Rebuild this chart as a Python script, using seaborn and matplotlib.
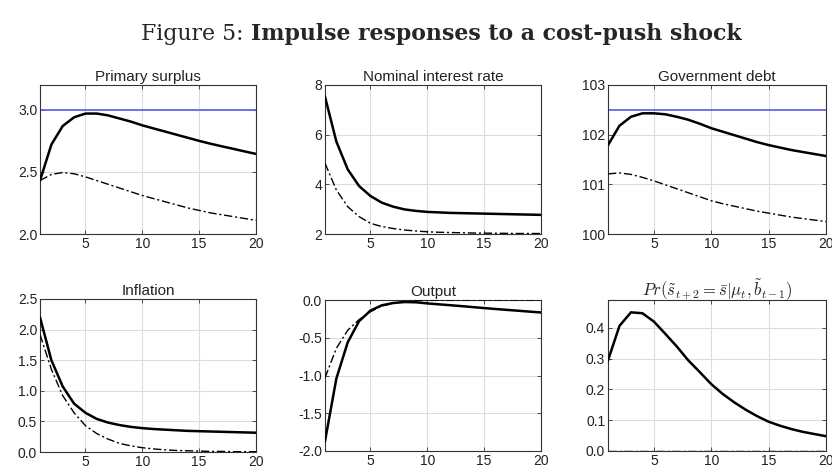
import numpy as np
import pandas as pd
import matplotlib
matplotlib.use("Agg")
import matplotlib.pyplot as plt
import seaborn as sns

sns.set_theme(style="whitegrid")
plt.rcParams['font.family'] = ['Liberation Sans', 'DejaVu Sans']
plt.rcParams['mathtext.fontset'] = 'cm'

periods = list(range(1, 21))

surplus_solid = [2.43, 2.72, 2.87, 2.94, 2.97, 2.97, 2.955, 2.93, 2.905, 2.875,
                 2.85, 2.825, 2.80, 2.775, 2.75, 2.727, 2.706, 2.686, 2.665, 2.645]
surplus_dash = [2.43, 2.48, 2.495, 2.485, 2.46, 2.43, 2.40, 2.37, 2.34, 2.31,
                2.285, 2.26, 2.235, 2.21, 2.19, 2.17, 2.155, 2.14, 2.125, 2.11]
surplus_bar = 3.0

rate_solid = [7.53, 5.72, 4.6, 3.93, 3.53, 3.26, 3.10, 2.99, 2.93, 2.89,
              2.87, 2.85, 2.84, 2.83, 2.82, 2.81, 2.80, 2.79, 2.78, 2.77]
rate_dash = [4.85, 3.77, 3.10, 2.70, 2.43, 2.30, 2.22, 2.16, 2.12, 2.09,
             2.07, 2.06, 2.05, 2.04, 2.035, 2.03, 2.025, 2.02, 2.02, 2.02]

debt_solid = [101.79, 102.18, 102.36, 102.43, 102.43, 102.41, 102.36, 102.30, 102.22, 102.13,
              102.06, 101.99, 101.92, 101.85, 101.79, 101.74, 101.69, 101.65, 101.61, 101.57]
debt_dash = [101.21, 101.23, 101.20, 101.14, 101.07, 100.99, 100.91, 100.83, 100.75, 100.67,
             100.61, 100.56, 100.51, 100.46, 100.42, 100.38, 100.34, 100.31, 100.28, 100.25]
debt_bar = 102.5

infl_solid = [2.20, 1.50, 1.07, 0.79, 0.64, 0.54, 0.48, 0.44, 0.41, 0.39,
              0.375, 0.365, 0.355, 0.345, 0.34, 0.335, 0.33, 0.325, 0.32, 0.315]
infl_dash = [1.92, 1.35, 0.92, 0.64, 0.43, 0.30, 0.21, 0.14, 0.10, 0.07,
             0.05, 0.035, 0.025, 0.02, 0.015, 0.01, 0.01, 0.005, 0.005, 0.005]

out_solid = [-1.87, -1.04, -0.56, -0.28, -0.14, -0.07, -0.04, -0.027, -0.03, -0.045,
             -0.057, -0.069, -0.081, -0.094, -0.107, -0.119, -0.131, -0.142, -0.154, -0.165]
out_dash = [-1.03, -0.64, -0.40, -0.26, -0.155, -0.08, -0.045, -0.02, -0.01, -0.004,
            -0.002, -0.001, 0.0, 0.0, 0.0, 0.0, 0.0, 0.0, 0.0, 0.0]

prob_solid = [0.294, 0.406, 0.45, 0.447, 0.42, 0.38, 0.339, 0.294, 0.256, 0.217,
              0.185, 0.158, 0.134, 0.113, 0.095, 0.082, 0.071, 0.062, 0.055, 0.048]
prob_dash = [0.0] * 20

titles = ["Primary surplus", "Nominal interest rate", "Government debt",
          "Inflation", "Output", r"$Pr(\tilde{s}_{t+2}=\bar{s}|\mu_t,\tilde{b}_{t-1})$"]
solids = [surplus_solid, rate_solid, debt_solid, infl_solid, out_solid, prob_solid]
dashes = [surplus_dash, rate_dash, debt_dash, infl_dash, out_dash, prob_dash]
bars = [surplus_bar, None, debt_bar, None, None, None]
ylims = [(2.0, 3.2), (2, 8), (100, 103), (0, 2.5), (-2, 0), (0, 0.49)]
yticks = [[2.0, 2.5, 3.0], [2, 4, 6, 8], [100, 101, 102, 103],
          [0, 0.5, 1.0, 1.5, 2.0, 2.5], [-2, -1.5, -1, -0.5, 0], [0, 0.1, 0.2, 0.3, 0.4]]
yfmt = ["{:.1f}", "{:.0f}", "{:.0f}", "{:.1f}", "{:.1f}", "{:.1f}"]

W, H = 832, 471
fig = plt.figure(figsize=(W / 100, H / 100), dpi=100)

# axes boxes in pixels: (left, top, right, bottom)
boxes = [(40, 85, 256, 234), (325, 85, 541, 234), (608, 85, 826, 234),
         (40, 299, 256, 452), (325, 300, 541, 451), (608, 300, 826, 451)]

for i in range(6):
    l, t, r, b = boxes[i]
    ax = fig.add_axes([l / W, 1 - b / H, (r - l) / W, (b - t) / H])
    df = pd.DataFrame({"t": periods, "solid": solids[i], "dash": dashes[i]})
    if bars[i] is not None:
        ax.axhline(bars[i], color="#5a5ae6", lw=1.2, zorder=2)
    sns.lineplot(data=df, x="t", y="dash", ax=ax, color="black", lw=1.0,
                 linestyle=(0, (6, 2, 1.5, 2)), zorder=3)
    sns.lineplot(data=df, x="t", y="solid", ax=ax, color="black", lw=1.8, zorder=4)
    ax.set_xlim(1, 20)
    ax.set_ylim(*ylims[i])
    ax.set_xticks([5, 10, 15, 20])
    ax.set_yticks(yticks[i])
    ax.set_yticklabels([yfmt[i].format(v) for v in yticks[i]])
    ax.set_xlabel("")
    ax.set_ylabel("")
    ax.set_title(titles[i], fontsize=11 if i < 5 else 12, pad=3, color="#222222")
    ax.set_facecolor("white")
    ax.grid(True, color="#dddddd", lw=0.8)
    for s in ax.spines.values():
        s.set_color("#333333")
        s.set_linewidth(0.8)
    ax.tick_params(axis="both", direction="in", length=3, width=0.6, labelsize=10,
                   colors="#333333", labelcolor="#222222", pad=2,
                   top=True, right=True, left=True, bottom=True)

# Figure title with normal + bold parts
fig.canvas.draw()
renderer = fig.canvas.get_renderer()
p1 = fig.text(0, 0, "Figure 5: ", fontsize=15.8, family="DejaVu Serif")
p2 = fig.text(0, 0, "Impulse responses to a cost-push shock", fontsize=15.8,
              family="DejaVu Serif", fontweight="bold")
w1 = p1.get_window_extent(renderer).width
w2 = p2.get_window_extent(renderer).width
x0 = 441.5 - (w1 + w2) / 2
yb = 1 - 40 / H
p1.set_position((x0 / W, yb))
p2.set_position(((x0 + w1) / W, yb))

fig.savefig("out.png", dpi=100)
